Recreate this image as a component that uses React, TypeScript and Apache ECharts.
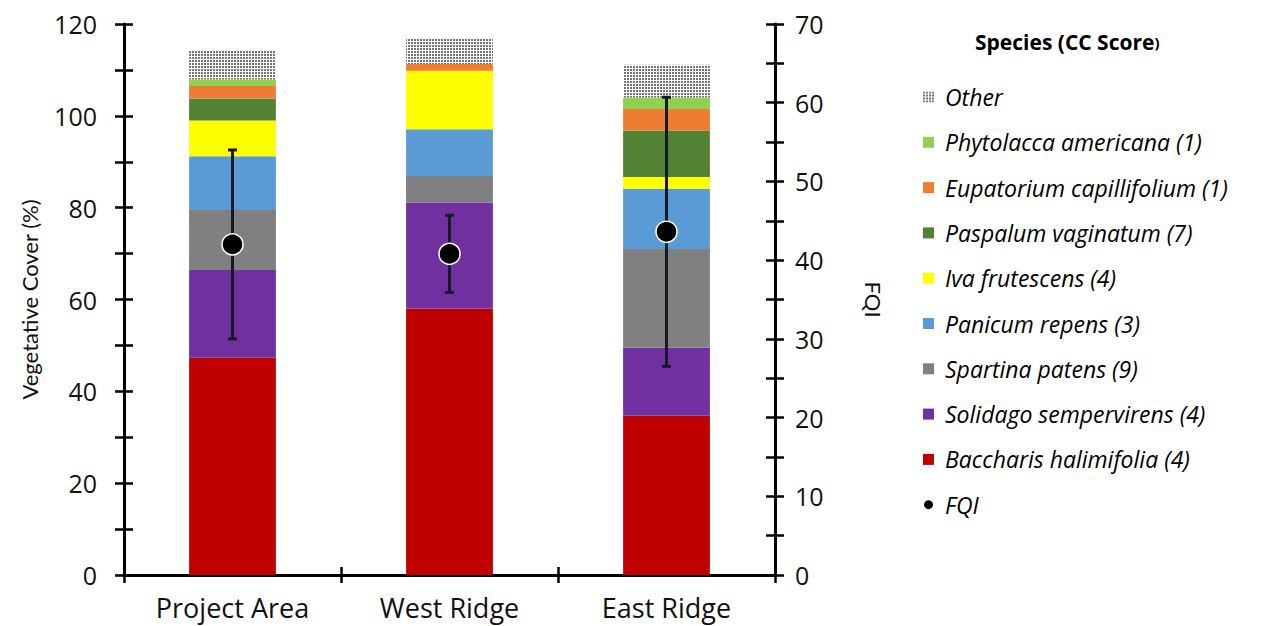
import React, { useEffect, useRef } from "react";
import * as echarts from "echarts";

// Sites along the x axis
const categories = ["Project Area", "West Ridge", "East Ridge"];

// Vegetative cover (%) per species, one value per site
const baccharis = [47.3, 58.0, 34.7];
const solidago = [19.1, 23.1, 14.8];
const spartina = [13.1, 5.8, 21.5];
const panicum = [11.7, 10.2, 13.1];
const iva = [7.8, 12.7, 2.6];
const paspalum = [4.8, 0, 10.1];
const eupatorium = [2.7, 1.5, 4.7];
const phytolacca = [1.4, 0, 2.5];
const other = [6.3, 5.6, 7.1];

// Floristic Quality Index: mean and error per site
const fqiMean = [42.0, 40.8, 43.6];
const fqiErr = [12.0, 4.9, 17.1];

// Axis ranges
const coverMax = 120;
const coverStep = 10;
const fqiMax = 70;
const fqiStep = 5;

const FONT = "'Open Sans', 'Noto Sans', sans-serif";
const NAME_FONT = "Lato, 'Open Sans', sans-serif";

// Stack order from bottom to top
const species = [
  { name: "Baccharis halimifolia (4)", values: baccharis, color: "#C00000" },
  { name: "Solidago sempervirens (4)", values: solidago, color: "#7030A0" },
  { name: "Spartina patens (9)", values: spartina, color: "#808080" },
  { name: "Panicum repens (3)", values: panicum, color: "#5B9BD5" },
  { name: "Iva frutescens (4)", values: iva, color: "#FFFF00" },
  { name: "Paspalum vaginatum (7)", values: paspalum, color: "#548235" },
  { name: "Eupatorium capillifolium (1)", values: eupatorium, color: "#ED7D31" },
  { name: "Phytolacca americana (1)", values: phytolacca, color: "#92D050" },
  { name: "Other", values: other, color: "#FFFFFF", dotted: true },
];

export default function App() {
  const ref = useRef<HTMLDivElement>(null);

  useEffect(() => {
    if (!ref.current) return;
    const chart = echarts.init(ref.current, null, { renderer: "svg" });

    const axisLine = { show: true, lineStyle: { color: "#000", width: 3 } };
    const tickStyle = { color: "#000", width: 2.5 };
    const labelStyle = { color: "#111", fontSize: 25, fontFamily: FONT };

    const barSeries = species.map((s) => ({
      name: s.name,
      type: "bar",
      stack: "cover",
      xAxisIndex: 0,
      yAxisIndex: 0,
      barWidth: "40%",
      data: s.values,
      itemStyle: s.dotted
        ? {
            color: "#FFFFFF",
            decal: {
              symbol: "circle",
              symbolSize: 0.85,
              dashArrayX: [2, 1],
              dashArrayY: [2, 1],
              color: "rgba(0,0,0,0.8)",
              backgroundColor: "#FFFFFF",
            },
          }
        : { color: s.color },
    }));

    const legendOrder = [
      "Other",
      "Phytolacca americana (1)",
      "Eupatorium capillifolium (1)",
      "Paspalum vaginatum (7)",
      "Iva frutescens (4)",
      "Panicum repens (3)",
      "Spartina patens (9)",
      "Solidago sempervirens (4)",
      "Baccharis halimifolia (4)",
    ];

    chart.setOption({
      animation: false,
      backgroundColor: "#fff",
      textStyle: { fontFamily: FONT },
      title: {
        left: 970,
        top: 26,
        text: "{b|Species (CC Score}{s|)}",
        textStyle: {
          rich: {
            b: { fontFamily: FONT, fontSize: 21, fontWeight: "bold", color: "#000" },
            s: { fontFamily: FONT, fontSize: 15, color: "#000" },
          },
        },
      },
      legend: {
        orient: "vertical",
        left: 922,
        top: 85,
        padding: 0,
        itemWidth: 11,
        itemHeight: 11,
        itemGap: 21.3,
        icon: "rect",
        selectedMode: false,
        textStyle: {
          fontFamily: FONT,
          fontStyle: "italic",
          fontSize: 23,
          lineHeight: 24,
          color: "#000",
          padding: [0, 0, 0, 6],
        },
        data: [...legendOrder, { name: "FQI", icon: "circle" }],
      },
      grid: { left: 124, right: 497, top: 24, bottom: 51, containLabel: false },
      xAxis: [
        {
          type: "category",
          data: categories,
          position: "bottom",
          axisLine,
          axisTick: { show: true, interval: 0, length: 8, lineStyle: tickStyle },
          axisLabel: { ...labelStyle, fontSize: 27, margin: 19 },
          splitLine: { show: false },
        },
        {
          type: "category",
          data: categories,
          position: "bottom",
          axisLine: { show: false },
          axisTick: { show: true, inside: true, interval: 0, length: 8, lineStyle: tickStyle },
          axisLabel: { show: false },
          splitLine: { show: false },
        },
      ],
      yAxis: [
        {
          type: "value",
          position: "left",
          min: 0,
          max: coverMax,
          interval: coverStep,
          name: "Vegetative Cover (%)",
          nameLocation: "middle",
          nameGap: 84,
          nameTextStyle: { fontFamily: NAME_FONT, fontSize: 22, color: "#111" },
          axisLine,
          axisTick: { show: true, length: 9, lineStyle: tickStyle },
          axisLabel: {
            ...labelStyle,
            margin: 27,
            formatter: (v: number) => (v % 20 === 0 ? String(v) : ""),
          },
          splitLine: { show: false },
        },
        {
          type: "value",
          position: "right",
          min: 0,
          max: fqiMax,
          interval: fqiStep,
          name: "FQI",
          nameLocation: "middle",
          nameRotate: -90,
          nameGap: 87,
          nameTextStyle: { fontFamily: NAME_FONT, fontSize: 22, color: "#111" },
          axisLine,
          axisTick: { show: true, length: 9, lineStyle: tickStyle },
          axisLabel: {
            ...labelStyle,
            margin: 20,
            formatter: (v: number) => (v % 10 === 0 ? String(v) : ""),
          },
          splitLine: { show: false },
        },
        {
          type: "value",
          position: "left",
          min: 0,
          max: coverMax,
          interval: coverStep,
          axisLine: { show: false },
          axisTick: { show: true, inside: true, length: 9, lineStyle: tickStyle },
          axisLabel: { show: false },
          splitLine: { show: false },
        },
        {
          type: "value",
          position: "right",
          min: 0,
          max: fqiMax,
          interval: fqiStep,
          axisLine: { show: false },
          axisTick: { show: true, inside: true, length: 9, lineStyle: tickStyle },
          axisLabel: { show: false },
          splitLine: { show: false },
        },
      ],
      series: [
        ...barSeries,
        {
          name: "FQI error",
          type: "custom",
          xAxisIndex: 0,
          yAxisIndex: 1,
          z: 5,
          data: categories.map((_, i) => [i, fqiMean[i] - fqiErr[i], fqiMean[i] + fqiErr[i]]),
          renderItem: (params: any, api: any) => {
            const x = api.value(0);
            const lo = api.coord([x, api.value(1)]);
            const hi = api.coord([x, api.value(2)]);
            const cap = 4.5;
            const style = { stroke: "#151b26", lineWidth: 3 };
            return {
              type: "group",
              children: [
                { type: "line", shape: { x1: lo[0], y1: lo[1], x2: hi[0], y2: hi[1] }, style },
                { type: "line", shape: { x1: hi[0] - cap, y1: hi[1], x2: hi[0] + cap, y2: hi[1] }, style },
                { type: "line", shape: { x1: lo[0] - cap, y1: lo[1], x2: lo[0] + cap, y2: lo[1] }, style },
              ],
            };
          },
        },
        {
          name: "FQI",
          type: "scatter",
          xAxisIndex: 0,
          yAxisIndex: 1,
          z: 10,
          symbol: "circle",
          symbolSize: 21,
          data: fqiMean,
          itemStyle: { color: "#000", borderColor: "#fff", borderWidth: 1.5, opacity: 1 },
        },
      ],
    });

    return () => chart.dispose();
  }, []);

  return (
    <div
      ref={ref}
      style={{ position: "fixed", left: 0, top: 0, width: 1272, height: 626 }}
    />
  );
}
